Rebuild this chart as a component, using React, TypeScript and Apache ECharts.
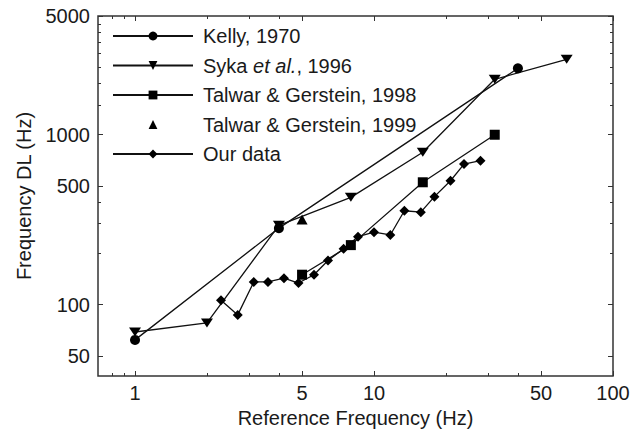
import React, { useEffect, useRef } from "react";
import * as echarts from "echarts";

const kellyX = [1, 4, 40];
const kellyY = [62, 282, 2460];
const sykaX = [1, 2, 4, 8, 16, 32, 64];
const sykaY = [69, 78, 293, 428, 788, 2120, 2780];
const tg98X = [5, 8, 16, 32];
const tg98Y = [150, 224, 525, 1000];
const tg99X = [5];
const tg99Y = [317];
const ourX = [2.29, 2.69, 3.14, 3.6, 4.2, 4.83, 5.61, 6.42, 7.46, 8.57, 10, 11.7, 13.4, 15.7, 17.9, 20.9, 23.8, 27.9];
const ourY = [106, 87, 136, 136, 143, 134, 150, 182, 213, 251, 267, 257, 357, 350, 432, 536, 672, 703];

const xMajor = [1, 5, 10, 50, 100];
const xMinor = [0.8, 0.9, 2, 3, 4, 20, 30, 40];
const yMajor = [50, 100, 500, 1000, 5000];
const yMinor = [200, 300, 400, 1500, 2000, 2500, 3000, 3500, 4000, 4500];

const names = [
  "Kelly, 1970",
  "Syka et al., 1996",
  "Talwar & Gerstein, 1998",
  "Talwar & Gerstein, 1999",
  "Our data",
];

const FONT = "'Liberation Sans', Arial, sans-serif";
const TXT = "#1a1a1a";
const X_MIN = 0.7, X_MAX = 100, Y_MIN = 38, Y_MAX = 5000;

const zip = (xs: number[], ys: number[]) => xs.map((x, i) => [x, ys[i]]);

export default function App() {
  const ref = useRef<HTMLDivElement>(null);
  useEffect(() => {
    if (!ref.current) return;
    const chart = echarts.init(ref.current, undefined, { renderer: "svg" });
    const tickBase = { inside: true, lineStyle: { color: "#333", width: 1 } };
    const fmt = (v: number) => String(Math.round(v * 100) / 100);
    const xAx = (pos: string, vals: number[], len: number, labels: boolean, nameOn: boolean) => ({
      type: "log",
      min: X_MIN,
      max: X_MAX,
      position: pos,
      axisLine: { show: false },
      splitLine: { show: false },
      axisTick: { ...tickBase, length: len, customValues: vals },
      axisLabel: labels
        ? { show: true, customValues: vals, margin: 7, fontSize: 20, color: TXT, fontFamily: FONT, formatter: fmt }
        : { show: false },
      name: nameOn ? "Reference Frequency (Hz)" : "",
      nameLocation: "middle",
      nameGap: 32,
      nameTextStyle: { fontSize: 20, color: TXT, fontFamily: FONT },
    });
    const yAx = (pos: string, vals: number[], len: number, labels: boolean, nameOn: boolean) => ({
      type: "log",
      min: Y_MIN,
      max: Y_MAX,
      position: pos,
      axisLine: { show: false },
      splitLine: { show: false },
      axisTick: { ...tickBase, length: len, customValues: vals },
      axisLabel: labels
        ? { show: true, customValues: vals, margin: 8, fontSize: 20, color: TXT, fontFamily: FONT, formatter: fmt }
        : { show: false },
      name: nameOn ? "Frequency DL (Hz)" : "",
      nameLocation: "middle",
      nameGap: 64,
      nameTextStyle: { fontSize: 20, color: TXT, fontFamily: FONT },
    });
    const lineStyle = { color: "#111", width: 1.3 };
    const itemStyle = { color: "#000" };
    const downTri = "path://M0,0L12,0L6,9Z";
    const option: any = {
      animation: false,
      grid: { left: 98, right: 23, top: 16, bottom: 59, show: true, borderColor: "#333", borderWidth: 1.5, backgroundColor: "transparent" },
      xAxis: [
        xAx("bottom", xMajor, 5, true, true),
        xAx("bottom", xMinor, 3, false, false),
        xAx("top", xMajor, 5, false, false),
        xAx("top", xMinor, 3, false, false),
      ],
      yAxis: [
        yAx("left", yMajor, 5, true, true),
        yAx("left", yMinor, 3, false, false),
        yAx("right", yMajor, 5, false, false),
        yAx("right", yMinor, 3, false, false),
      ],
      legend: {
        data: names,
        orient: "vertical",
        left: 112,
        top: 26,
        padding: 0,
        itemWidth: 80,
        itemHeight: 11,
        itemGap: 9.5,
        formatter: (n: string) =>
          n === names[1] ? "{n|Syka }{i|et al.}{n|, 1996}" : "{n|" + n + "}",
        textStyle: {
          padding: [0, 0, 0, 5],
          rich: {
            n: { fontSize: 20, fontFamily: FONT, color: TXT, lineHeight: 20 },
            i: { fontSize: 20, fontFamily: FONT, color: TXT, fontStyle: "italic", lineHeight: 20 },
          },
        },
      },
      series: [
        { name: names[0], type: "line", data: zip(kellyX, kellyY), symbol: "circle", symbolSize: 10, lineStyle, itemStyle },
        { name: names[1], type: "line", data: zip(sykaX, sykaY), symbol: downTri, symbolSize: [12, 9], lineStyle, itemStyle },
        { name: names[2], type: "line", data: zip(tg98X, tg98Y), symbol: "rect", symbolSize: 10, lineStyle, itemStyle },
        { name: names[3], type: "line", data: zip(tg99X, tg99Y), symbol: "triangle", symbolSize: [11, 10], lineStyle: { width: 0, color: "#111" }, itemStyle },
        { name: names[4], type: "line", data: zip(ourX, ourY), symbol: "diamond", symbolSize: 10, lineStyle, itemStyle },
      ],
    };
    chart.setOption(option);
    return () => chart.dispose();
  }, []);
  return <div ref={ref} style={{ position: "fixed", left: 0, top: 0, width: 636, height: 435, background: "#fff" }} />;
}
